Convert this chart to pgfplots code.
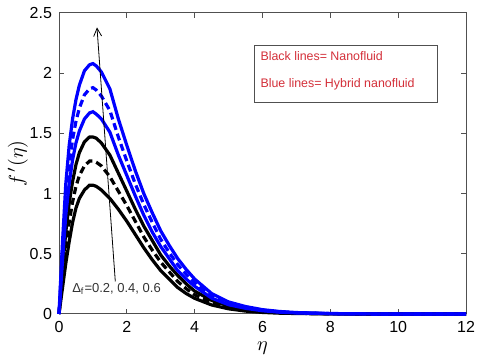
\documentclass[border=0pt]{standalone}
\usepackage{pgfplots}
\usepackage{pgfplotstable}
\pgfplotsset{compat=1.18}
\usepackage{fontspec}
\setmainfont{Liberation Sans}
\usetikzlibrary{arrows.meta}

\definecolor{labred}{RGB}{212,48,58}
\definecolor{axgray}{RGB}{80,80,80}

% velocity profiles: c1-c3 nanofluid (black), c4-c6 hybrid nanofluid (blue)
\pgfplotstableread{
x     c1     c2     c3     c4     c5     c6
0     0      0      0      0      0      0
0.1   0.21   0.28   0.36   0.43   0.51   0.58
0.2   0.42   0.55   0.68   0.82   0.95   1.08
0.3   0.60   0.76   0.92   1.08   1.24   1.40
0.4   0.76   0.93   1.10   1.28   1.45   1.62
0.5   0.88   1.06   1.24   1.42   1.60   1.78
0.6   0.96   1.15   1.34   1.52   1.71   1.90
0.75  1.03   1.23   1.43   1.62   1.82   2.02
0.9   1.07   1.27   1.47   1.67   1.87   2.07
1.0   1.07   1.27   1.47   1.68   1.88   2.08
1.1   1.06   1.26   1.46   1.66   1.86   2.06
1.25  1.03   1.23   1.42   1.62   1.81   2.01
1.5   0.96   1.14   1.32   1.51   1.69   1.87
1.75  0.87   1.02   1.17   1.32   1.47   1.62
2.0   0.77   0.90   1.02   1.15   1.27   1.40
2.25  0.66   0.77   0.87   0.98   1.08   1.19
2.5   0.55   0.64   0.73   0.82   0.91   1.00
2.75  0.45   0.53   0.61   0.68   0.76   0.84
3.0   0.36   0.43   0.49   0.56   0.62   0.69
3.25  0.29   0.35   0.40   0.46   0.51   0.57
3.5   0.22   0.27   0.32   0.36   0.41   0.46
3.75  0.17   0.21   0.25   0.29   0.33   0.37
4.0   0.13   0.16   0.19   0.23   0.26   0.29
4.5   0.075  0.094  0.113  0.132  0.151  0.17
5.0   0.043  0.054  0.066  0.077  0.089  0.10
5.5   0.024  0.032  0.039  0.047  0.054  0.062
6.0   0.013  0.018  0.022  0.027  0.031  0.036
6.5   0.007  0.010  0.013  0.015  0.018  0.021
7.0   0.004  0.006  0.007  0.009  0.010  0.012
8.0   0.001  0.002  0.002  0.003  0.003  0.004
9.0   0      0      0      0.001  0.001  0.001
10.0  0      0      0      0      0      0
12.0  0      0      0      0      0      0
}\profiles

\begin{document}
\begin{tikzpicture}
\begin{axis}[
    scale only axis,
    width=203.5pt, height=150.5pt,
    xmin=0, xmax=12, ymin=0, ymax=2.5,
    xtick={0,2,...,12},
    ytick={0,0.5,1,1.5,2,2.5},
    tick align=inside,
    major tick length=2.5pt,
    axis line style={axgray, line width=0.5pt},
    tick style={axgray, line width=0.5pt},
    ticklabel style={font=\fontsize{8}{9}\selectfont},
    /pgf/number format/assume math mode=true,
    xlabel={$\eta$},
    ylabel={$f^{\,\prime}(\eta)$},
    label style={font=\fontsize{10}{12}\selectfont},
    xlabel style={yshift=2pt},
    ylabel style={yshift=-6pt},
    every axis plot/.append style={line width=1.6pt},
    clip=false,
]
\addplot[black] table[x=x,y=c1] {\profiles};
\addplot[black, dash pattern=on 3.5pt off 2pt] table[x=x,y=c2] {\profiles};
\addplot[black] table[x=x,y=c3] {\profiles};
\addplot[blue] table[x=x,y=c4] {\profiles};
\addplot[blue, dash pattern=on 3.5pt off 2pt] table[x=x,y=c5] {\profiles};
\addplot[blue] table[x=x,y=c6] {\profiles};

\draw[black, line width=0.4pt, -{Straight Barb[length=4pt,width=4pt]}]
    (axis cs:1.66,0.27) -- (axis cs:1.12,2.38);
\node[anchor=west, inner sep=0pt, text=black!80, font=\fontsize{6.5}{7}\selectfont]
    at (axis cs:0.38,0.21) {Δ\textsubscript{f}=0.2, 0.4, 0.6};

\draw[axgray, line width=0.5pt, fill=white] (axis cs:5.75,1.753) rectangle (axis cs:11.15,2.234);
\node[anchor=west, inner sep=0pt, text=labred, font=\fontsize{6.2}{7}\selectfont]
    at (axis cs:5.93,2.143) {Black lines= Nanofluid};
\node[anchor=west, inner sep=0pt, text=labred, font=\fontsize{6.2}{7}\selectfont]
    at (axis cs:5.93,1.91) {Blue lines= Hybrid nanofluid};
\end{axis}
\pgfresetboundingbox
\path (current axis.south west) +(-29.5pt,-21pt)
      (current axis.north east) +(7pt,6.5pt);
\end{tikzpicture}
\end{document}
